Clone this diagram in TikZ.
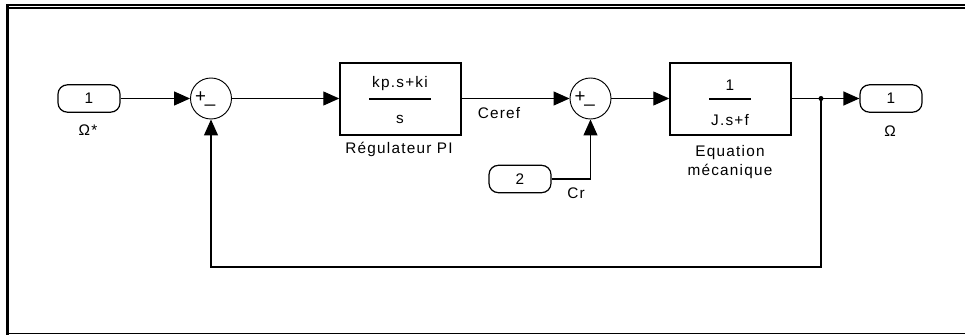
\documentclass[tikz,border=0pt]{standalone}
\usepackage{fontspec}
\setmainfont{Liberation Sans}[LetterSpace=8]
\usetikzlibrary{arrows.meta}
\begin{document}
\begin{tikzpicture}[x=0.75pt,y=-0.75pt,
  line width=0.9pt,
  every node/.style={font=\fontsize{11.5}{13}\selectfont, inner sep=0pt},
  arr/.style={-{Triangle[length=12pt,width=10.5pt]}},
  blockbox/.style={draw, line width=1.1pt, rectangle, minimum width=90.75pt, minimum height=54pt},
  sumnode/.style={draw, line width=0.7pt, circle, minimum size=30.75pt},
  pill/.style={draw, line width=0.9pt, rectangle, rounded corners=7pt, minimum width=46.5pt, minimum height=20.5pt},
  lbl/.style={font=\fontsize{11.5}{13}\selectfont},
  sgn/.style={font=\fontsize{14}{14}\selectfont}
]
\useasboundingbox (0,0) rectangle (965,335);
% frame
\fill (6,4) rectangle (965,6.5);
\fill (6,4) rectangle (9,335);
\draw[line width=1.1pt] (9,7.8) -- (965,7.8);
\draw[line width=1.1pt] (9,333.6) -- (965,333.6);

% nodes
\node[pill] (in1) at (89,98.5) {1};
\node[lbl] (in1l) at (88,130) {Ω*};
\node[sumnode] (s1) at (211,98.5) {};
\node[sgn] (s1p) at (200.5,97) {+};
\node[sgn] (s1m) at (210,104) {\_};

\node[blockbox] (pi) at (400.5,99) {};
\draw[line width=0.9pt] (369,99) -- (431,99);
\node[lbl] (pin) at (400,84) {kp.s+ki};
\node[lbl] (pid) at (400,119) {s};
\node[lbl] (pil) at (399,149) {Régulateur PI};
\node[lbl] (ceref) at (499,113) {Ceref};

\node[sumnode] (s2) at (590.5,98.5) {};
\node[sgn] (s2p) at (580,97) {+};
\node[sgn] (s2m) at (589.5,104) {\_};

\node[pill] (in2) at (520,179) {2};
\node[lbl] (crl) at (576,193) {Cr};

\node[blockbox] (mech) at (730.5,99) {};
\draw[line width=0.9pt] (709,99) -- (751,99);
\node[lbl] (mn) at (730,85) {1};
\node[lbl] (md) at (730,120) {J.s+f};
\node[lbl] (ml1) at (730,153) {Equation};
\node[lbl] (ml2) at (730,171) {mécanique};

\node[pill] (out1) at (891,98.5) {1};
\node[lbl] (out1l) at (890,131) {Ω};

\coordinate (br) at (821,98.5);
\coordinate (fb) at (821,267);

% connectors
\draw[arr] (in1.east) -- (s1.west);
\draw[arr] (s1.east) -- (pi.west |- s1.east);
\draw[arr] (pi.east |- s2.west) -- (s2.west);
\draw[arr] (s2.east) -- (mech.west |- s2.east);
\draw (mech.east |- br) -- (br);
\draw[arr] (br) -- (out1.west);
\fill (br) circle (2.5);
\draw[arr] (in2.east) -| (s2.south);
\draw[arr] (br) -- (fb) -| (s1.south);
\end{tikzpicture}
\end{document}
